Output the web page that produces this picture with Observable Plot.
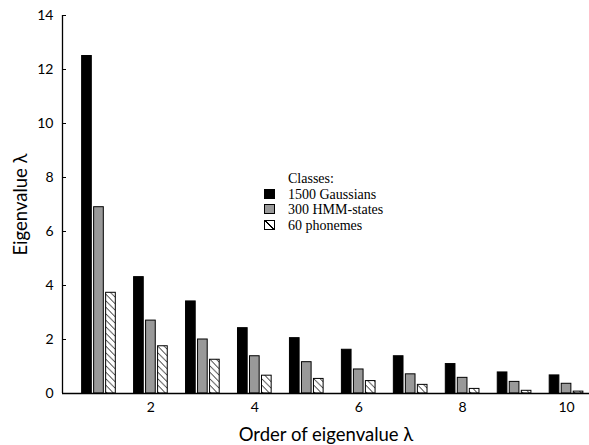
<!DOCTYPE html>
<html>
<head>
<meta charset="utf-8">
<script src="https://cdn.jsdelivr.net/npm/d3@7"></script>
<script src="https://cdn.jsdelivr.net/npm/@observablehq/plot@0.6"></script>
<style>
  body { margin: 0; background: #fff; }
  #wrap { position: relative; width: 589px; height: 445px; }
  .legend { position: absolute; left: 264px; top: 171px; font-family: "Liberation Serif", "Times New Roman", serif; font-size: 14px; line-height: 15.5px; color: #000; white-space: nowrap; }
  .legend .ttl { padding-left: 24px; }
  .legend .sw { display: inline-block; width: 11px; height: 10px; box-sizing: border-box; border: 1px solid #000; margin-right: 13px; vertical-align: baseline; }
</style>
</head>
<body>
<div id="wrap"></div>
<script>
// ---- data ----
const orders = [1, 2, 3, 4, 5, 6, 7, 8, 9, 10];
const classes = ["1500 Gaussians", "300 HMM-states", "60 phonemes"];
const gaussians = [12.5, 4.31, 3.41, 2.42, 2.05, 1.62, 1.38, 1.09, 0.78, 0.67];
const hmmStates = [6.9, 2.70, 2.0, 1.38, 1.16, 0.89, 0.71, 0.58, 0.43, 0.36];
const phonemes  = [3.73, 1.75, 1.25, 0.66, 0.54, 0.46, 0.32, 0.17, 0.10, 0.07];
const xTicks = [2, 4, 6, 8, 10];
const yTicks = [0, 2, 4, 6, 8, 10, 12, 14];
const legendTitle = "Classes:";
const xTitle = "Order of eigenvalue λ";
const yTitle = "Eigenvalue λ";

// ---- styling ----
const series = [gaussians, hmmStates, phonemes];
const fills = ["#000000", "#999999", "url(#hatch)"];
const xDomain = [0.298, 10.442];
const groupOffset = 0.231;   // offset between bars within a group (x units)
const halfWidth = 0.093;     // half bar width (x units)

const barMarks = series.map((s, k) => {
  const rows = orders.map((o, i) => ({order: o, value: s[i]}));
  return Plot.rectY(rows, {
    x1: d => d.order + (k - 1) * groupOffset - halfWidth,
    x2: d => d.order + (k - 1) * groupOffset + halfWidth,
    y1: 0,
    y2: "value",
    fill: fills[k],
    stroke: "#000",
    strokeWidth: 1
  });
});

const chart = Plot.plot({
  width: 589,
  height: 445,
  marginLeft: 62,
  marginRight: 0,
  marginTop: 15,
  marginBottom: 52,
  style: {fontFamily: "Lato, 'DejaVu Sans', sans-serif", fontSize: "14px", background: "white", color: "black", overflow: "visible"},
  x: {domain: xDomain},
  y: {domain: [0, 14]},
  marks: [
    ...barMarks,
    Plot.ruleY([0], {stroke: "#000", strokeWidth: 1.3}),
    Plot.ruleX([xDomain[0]], {y1: 0, y2: 14, stroke: "#000", strokeWidth: 1.3}),
    Plot.axisY({ticks: yTicks, tickSize: -4, tickPadding: 13, label: yTitle, labelAnchor: "center", labelOffset: 49, labelArrow: "none"}),
    Plot.axisX({ticks: xTicks, tickSize: 0, tickPadding: 9, label: xTitle, labelAnchor: "center", labelOffset: 47, labelArrow: "none"})
  ]
});

// hatch pattern
const svg = d3.select(chart.tagName.toLowerCase() === "svg" ? chart : chart.querySelector("svg"));
const defs = svg.insert("defs", ":first-child");
const pat = defs.append("pattern").attr("id", "hatch").attr("patternUnits", "userSpaceOnUse").attr("width", 6.5).attr("height", 6.5);
pat.append("rect").attr("width", 6.5).attr("height", 6.5).attr("fill", "#fff");
pat.append("path").attr("d", "M-1,-1 L7.5,7.5 M-1,5.5 L1,7.5 M5.5,-1 L7.5,1").attr("stroke", "#000").attr("stroke-width", 0.9);

// axis title fonts larger
svg.selectAll("g[aria-label='y-axis label'] text, g[aria-label='x-axis label'] text").style("font-size", "18.5px");

const wrap = document.getElementById("wrap");
wrap.appendChild(chart);

// legend
const legend = document.createElement("div");
legend.className = "legend";
const t = document.createElement("div");
t.className = "ttl";
t.textContent = legendTitle;
legend.appendChild(t);
classes.forEach((c, k) => {
  const row = document.createElement("div");
  const sw = document.createElement("span");
  sw.className = "sw";
  if (k < 2) sw.style.background = fills[k];
  else sw.style.background = "linear-gradient(45deg, #fff 0, #fff calc(50% - 0.8px), #000 calc(50% - 0.8px), #000 calc(50% + 0.8px), #fff calc(50% + 0.8px))";
  row.appendChild(sw);
  row.appendChild(document.createTextNode(c));
  legend.appendChild(row);
});
wrap.appendChild(legend);
</script>
</body>
</html>
